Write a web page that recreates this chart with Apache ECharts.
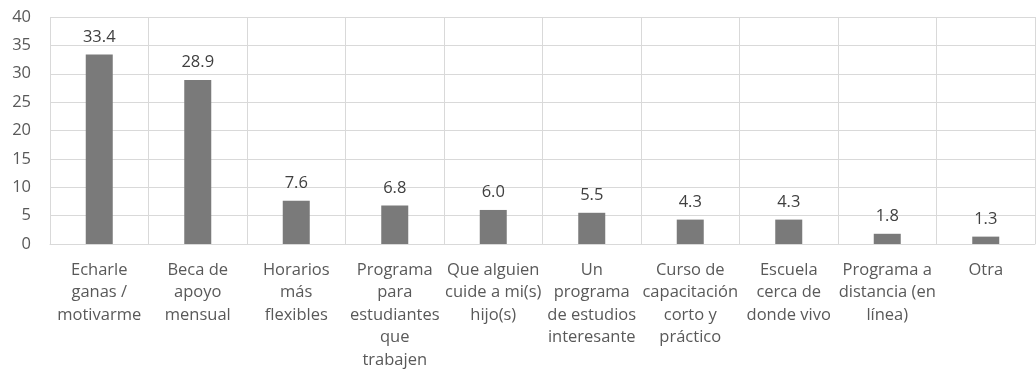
<!DOCTYPE html>
<html>
<head>
<meta charset="utf-8">
<script src="https://cdn.jsdelivr.net/npm/echarts@6/dist/echarts.min.js"></script>
<style>
html,body{margin:0;padding:0;background:#fff;}
#chart{width:1036px;height:370px;}
</style>
</head>
<body>
<div id="chart"></div>
<script>
const categories = [
  "Echarle\nganas /\nmotivarme",
  "Beca de\napoyo\nmensual",
  "Horarios\nmás\nflexibles",
  "Programa\npara\nestudiantes\nque\ntrabajen",
  "Que alguien\ncuide a mi(s)\nhijo(s)",
  "Un\nprograma\nde estudios\ninteresante",
  "Curso de\ncapacitación\ncorto y\npráctico",
  "Escuela\ncerca de\ndonde vivo",
  "Programa a\ndistancia (en\nlínea)",
  "Otra"
];
const values = [33.4, 28.9, 7.6, 6.8, 6.0, 5.5, 4.3, 4.3, 1.8, 1.3];
const yMin = 0, yMax = 40, yStep = 5;

const chart = echarts.init(document.getElementById('chart'), null, {renderer: 'canvas'});
const font = "'Open Sans', 'Noto Sans', sans-serif";
chart.setOption({
  animation: false,
  grid: {left: 50, right: 1, top: 17, bottom: 126, containLabel: false, outerBoundsMode: 'none'},
  xAxis: {
    type: 'category',
    data: categories,
    boundaryGap: true,
    axisLine: {show: true, lineStyle: {color: '#d9d9d9', width: 1}},
    axisTick: {show: false},
    splitLine: {show: true, lineStyle: {color: '#d9d9d9', width: 1}},
    axisLabel: {
      interval: 0, color: '#595959', fontSize: 16.5, fontFamily: font,
      lineHeight: 22.5, margin: 15, align: 'center'
    }
  },
  yAxis: {
    type: 'value',
    min: yMin, max: yMax, interval: yStep,
    axisLine: {show: false},
    axisTick: {show: false},
    splitLine: {show: true, lineStyle: {color: '#d9d9d9', width: 1}},
    axisLabel: {color: '#595959', fontSize: 16.5, fontFamily: font, margin: 19}
  },
  series: [{
    type: 'bar',
    data: values,
    barWidth: 27,
    itemStyle: {color: '#7a7a7a'},
    label: {
      show: true, position: 'top', distance: 9,
      color: '#404040', fontSize: 16.5, fontFamily: font,
      formatter: p => Number(p.value).toFixed(1)
    }
  }]
});
</script>
</body>
</html>
